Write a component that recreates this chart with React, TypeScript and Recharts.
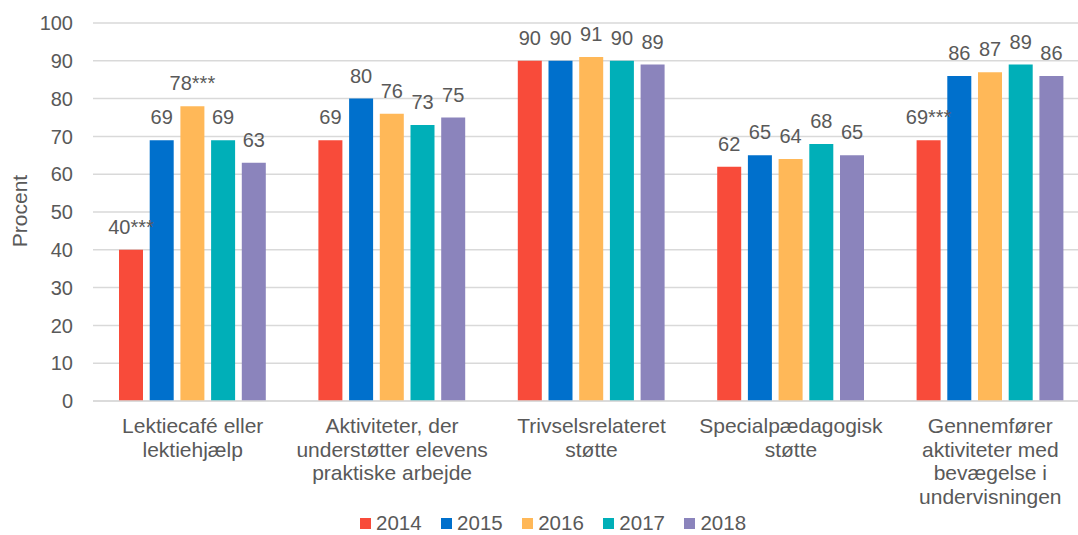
import React from 'react';
import { BarChart, Bar, XAxis, YAxis, CartesianGrid, LabelList, Legend } from 'recharts';

const categories = [
  'Lektiecafé eller\nlektiehjælp',
  'Aktiviteter, der\nunderstøtter elevens\npraktiske arbejde',
  'Trivselsrelateret\nstøtte',
  'Specialpædagogisk\nstøtte',
  'Gennemfører\naktiviteter med\nbevægelse i\nundervisningen',
];
const years = ['2014', '2015', '2016', '2017', '2018'];
const v2014 = [40, 69, 90, 62, 69];
const v2015 = [69, 80, 90, 65, 86];
const v2016 = [78, 76, 91, 64, 87];
const v2017 = [69, 73, 90, 68, 89];
const v2018 = [63, 75, 89, 65, 86];
const sig2014 = ['***', '', '', '', '***'];
const sig2015 = ['', '', '', '', ''];
const sig2016 = ['***', '', '', '', ''];
const sig2017 = ['', '', '', '', ''];
const sig2018 = ['', '', '', '', ''];
const yTicks = [0, 10, 20, 30, 40, 50, 60, 70, 80, 90, 100];
const colors = ['#F84B3A', '#0070CC', '#FFB858', '#00AFB8', '#8B84BC'];

const seriesValues = [v2014, v2015, v2016, v2017, v2018];
const seriesSig = [sig2014, sig2015, sig2016, sig2017, sig2018];

const data = categories.map((c, i) => {
  const row: any = { category: c };
  years.forEach((y, k) => {
    row[y] = seriesValues[k][i];
    row['l' + y] = String(seriesValues[k][i]) + seriesSig[k][i];
  });
  return row;
});

const FONT = '"Liberation Sans", Arial, sans-serif';
const TEXT = '#595959';

const CategoryTick = (props: any) => {
  const { x, y, payload } = props;
  const lines = String(payload.value).split('\n');
  return (
    <text x={x} y={y} textAnchor="middle" fill={TEXT} fontSize={21} fontFamily={FONT}>
      {lines.map((l, i) => (
        <tspan key={i} x={x} dy={i === 0 ? 32 : 23.7}>
          {l}
        </tspan>
      ))}
    </text>
  );
};

const YLabel = () => (
  <text
    x={19}
    y={211}
    transform="rotate(-90 19 211)"
    textAnchor="middle"
    dominantBaseline="central"
    fill={TEXT}
    fontSize={21}
    fontFamily={FONT}
  >
    Procent
  </text>
);

const LegendContent = () => (
  <div style={{ display: 'flex', alignItems: 'center', fontFamily: FONT, fontSize: 20.5, lineHeight: '20px', color: TEXT, whiteSpace: 'nowrap' }}>
    {years.map((y, i) => (
      <div key={y} style={{ display: 'flex', alignItems: 'center', marginRight: 19.5 }}>
        <div style={{ width: 11, height: 11, background: colors[i], marginRight: 5 }} />
        <span>{y}</span>
      </div>
    ))}
  </div>
);

export default function App() {
  return (
    <div style={{ position: 'absolute', left: 0, top: 0, width: 1078, height: 535, overflow: 'hidden', background: '#fff' }}>
      <BarChart
        width={1100}
        height={535}
        data={data}
        margin={{ top: 23, right: 10, bottom: 24, left: 33 }}
        barSize={24}
        barGap={6.7}
      >
        <CartesianGrid vertical={false} stroke="#D9D9D9" strokeWidth={1.5} />
        <XAxis
          dataKey="category"
          interval={0}
          tickLine={false}
          tickSize={0}
          tickMargin={0}
          axisLine={{ stroke: '#D9D9D9', strokeWidth: 1.5 }}
          height={110}
          tick={<CategoryTick />}
        />
        <YAxis
          domain={[0, 100]}
          ticks={yTicks}
          width={60}
          axisLine={false}
          tickLine={false}
          tickSize={0}
          tickMargin={20}
          tick={{ fill: TEXT, fontSize: 20, fontFamily: FONT }}
          label={<YLabel />}
        />
        <Legend
          verticalAlign="middle"
          align="center"
          content={<LegendContent />}
          wrapperStyle={{ left: 360, top: 513, width: 'auto' }}
        />
        {years.map((y, i) => (
          <Bar key={y} dataKey={y} fill={colors[i]} isAnimationActive={false}>
            <LabelList
              dataKey={'l' + y}
              position="top"
              offset={16}
              fill={TEXT}
              fontSize={20}
              fontFamily={FONT}
            />
          </Bar>
        ))}
      </BarChart>
    </div>
  );
}
